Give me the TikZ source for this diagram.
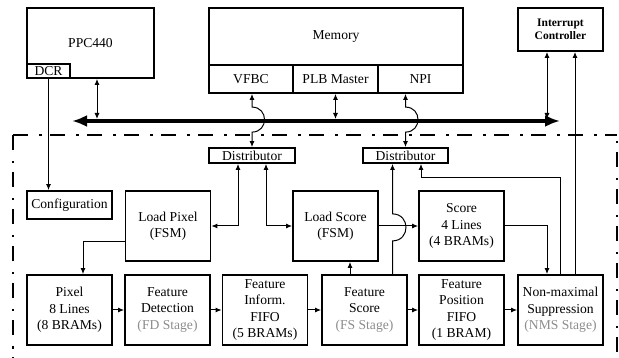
\documentclass[tikz,border=0pt]{standalone}
\usepackage{fontspec}
\setmainfont{Liberation Serif}
\usetikzlibrary{arrows.meta,calc}
\definecolor{stagegray}{RGB}{140,140,140}
\tikzset{
  blk/.style={draw, line width=1.8pt, minimum width=85pt, minimum height=70pt, align=center, inner sep=0pt, font=\fontsize{13.6}{16.5}\selectfont},
  conn/.style={line width=1pt},
  busline/.style={line width=4pt, {Latex[length=15pt,width=12pt]}-{Latex[length=15pt,width=12pt]}},
  frameline/.style={line width=2.5pt, dash pattern=on 15pt off 11pt on 2.5pt off 8.5pt},
  stage/.style={text=stagegray}
}
\begin{document}
\begin{tikzpicture}[x=1pt,y=-1pt, >={Latex[length=6pt,width=5pt]}]
\useasboundingbox (0,0) rectangle (619,358);
% dash-dot frame
\begin{scope}
\clip (0,0) rectangle (619,358);
\draw[frameline] (13,135) -- (617,135);
\draw[frameline] (13,135) -- (13,370);
\draw[frameline, dash phase=20pt] (617,135) -- (617,370);
\end{scope}
% top row
\node[blk, minimum width=127pt, minimum height=70pt] (ppc) at (90.5,43) {PPC440};
\node[blk, minimum width=43pt, minimum height=14pt] (dcr) at (48.5,71) {DCR};
\node[blk, minimum width=254pt, minimum height=57pt] (mem) at (336,36.5) {Memory};
\node[blk, minimum width=84pt, minimum height=28pt] (vfbc) at (251,79) {VFBC};
\node[blk, minimum width=85pt, minimum height=28pt] (plb) at (335.5,79) {PLB Master};
\node[blk, minimum width=85pt, minimum height=28pt] (npi) at (420.5,79) {NPI};
\node[blk, minimum height=43pt, font=\bfseries\fontsize{11.5}{13}\selectfont] (intc) at (560.5,29.5) {Interrupt\\Controller};
% inner
\node[blk, minimum height=28pt] (config) at (69.5,205) {Configuration};
\node[blk, minimum width=86pt, minimum height=15pt] (dist1) at (252,155.5) {Distributor};
\node[blk, minimum width=85pt, minimum height=15pt] (dist2) at (405.5,155.5) {Distributor};
\node[blk] (loadpix) at (168,226) {Load Pixel\\(FSM)};
\node[blk] (loadscore) at (335.5,226) {Load Score\\(FSM)};
\node[blk] (score4) at (461.5,226) {Score\\4 Lines\\(4 BRAMs)};
\node[blk] (pix8) at (69.5,310) {Pixel\\8 Lines\\(8 BRAMs)};
\node[blk] (fd) at (167.5,310) {Feature\\Detection\\\textcolor{stagegray}{(FD Stage)}};
\node[blk] (fifo) at (265,310) {Feature\\Inform.\\FIFO\\(5 BRAMs)};
\node[blk] (fs) at (364.5,310) {Feature\\Score\\\textcolor{stagegray}{(FS Stage)}};
\node[blk] (fpos) at (461.5,310) {Feature\\Position\\FIFO\\(1 BRAM)};
\node[blk] (nms) at (560.5,310) {Non-maximal\\Suppression\\\textcolor{stagegray}{(NMS Stage)}};
% bus
\coordinate (busL) at (72,121);
\coordinate (busR) at (560,121);
\draw[busline] (busL) -- (busR);
% connectors to bus
\coordinate (ppcB) at ([xshift=6.5pt]ppc.south);
\draw[conn,<->,shorten >=2pt] (ppcB) -- (ppcB |- busL);
\draw[conn,<->,shorten >=2pt] (plb.south) -- (plb.south |- busL);
\coordinate (intcL) at ([xshift=-13.5pt]intc.south);
\draw[conn,<->,shorten >=2pt] (intcL) -- (intcL |- busL);
\coordinate (intcR) at ([xshift=14.5pt]intc.south);
\coordinate (nmsR) at ([xshift=14.5pt]nms.north);
\draw[conn,->] (nmsR) -- (intcR);
% jumps over the bus
\draw[conn,<->] (dist1.north) -- ++(0,-15) .. controls +(16.7,0) and +(16.7,0) .. ++(0,-25) -- (vfbc.south -| dist1.north);
\draw[conn,<->] (dist2.north) -- ++(0,-15) .. controls +(16.7,0) and +(16.7,0) .. ++(0,-25) -- (npi.south -| dist2.north);
% distributor 1
\coordinate (d1a) at ([xshift=-14pt]dist1.south);
\draw[conn,<->] (d1a) |- (loadpix.east);
\coordinate (d1b) at ([xshift=14pt]dist1.south);
\draw[conn,<->] (d1b) |- (loadscore.west);
% distributor 2
\coordinate (d2a) at ([xshift=-13pt]dist2.south);
\draw[conn,<-] (d2a) -- ++(0,50) .. controls +(18,0) and +(18,0) .. ++(0,27) -- (d2a |- fs.north);
\coordinate (d2b) at ([xshift=15.5pt]dist2.south);
\draw[conn,<-] (d2b) -- ++(0,14) -| (nms.north);
% others
\draw[conn,->] (loadscore.east) -- (score4.west);
\coordinate (nmsL) at ([xshift=-13.5pt]nms.north);
\draw[conn,->] (score4.east) -| (nmsL);
\coordinate (fsL) at ([xshift=-14.5pt]fs.north);
\draw[conn,->] (fsL) -- (fsL |- loadscore.south);
\coordinate (lpW) at ([yshift=-16pt]loadpix.west);
\coordinate (pixT) at ([xshift=13.5pt]pix8.north);
\draw[conn,->] (lpW) -| (pixT);
\draw[conn,->] (dcr.south) -- (dcr.south |- config.north);
\foreach \a/\b in {pix8/fd, fd/fifo, fifo/fs, fs/fpos, fpos/nms}
  \draw[conn,->] (\a.east) -- (\b.west);
\end{tikzpicture}
\end{document}
